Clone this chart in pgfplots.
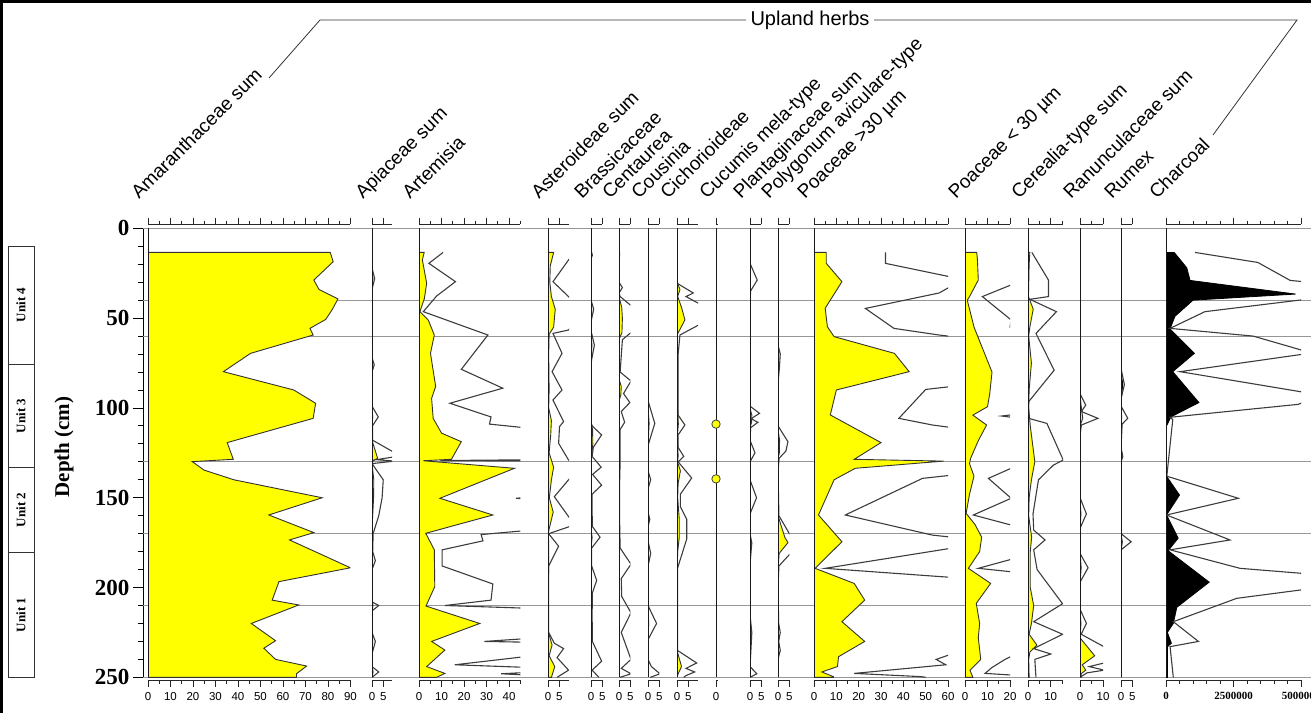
\documentclass[border=0pt]{standalone}
\usepackage{pgfplots}
\pgfplotsset{compat=1.18}
\usepackage{fontspec}
\setmainfont{Liberation Sans}
\newfontfamily\seriffont{Liberation Serif}
\definecolor{pyellow}{RGB}{255,255,0}
\definecolor{exline}{RGB}{60,60,60}
\definecolor{zone}{RGB}{150,150,150}
\pgfplotsset{
  panel/.style={
    scale only axis, height=456.2pt, anchor=south west,
    xmin=0, ymin=-2.3, ymax=251.7, y dir=reverse,
    axis x line=box, axis y line=none,
    axis line style={-},
    x axis line style={black!85, line width=0.8pt},
    ytick=\empty,
    tick align=outside,
    major tick length=6.5pt, minor tick length=3.5pt,
    every tick/.style={black!85, line width=0.7pt},
    xticklabel style={font=\fontsize{11.5}{12}\selectfont, inner sep=1pt, yshift=-4pt},
    /pgf/number format/assume math mode=true,
    clip mode=individual,
  },
  fillp/.style={fill=pyellow, draw=black!80, line width=0.9pt},
  fillk/.style={fill=black, draw=black, line width=0.8pt},
  exag/.style={exline, line width=1.1pt},
}
\newcommand{\zeroline}{\draw[black!90, line width=1pt] (axis cs:0,0) -- (axis cs:0,250);}
\newcommand{\taxon}[2]{\node[rotate=45, anchor=base west, inner sep=0pt, font=\fontsize{19}{20}\selectfont] at (#1pt,513pt) {#2};}
\begin{document}
\begin{tikzpicture}
\useasboundingbox (0pt,0pt) rectangle (1311pt,713pt);
% frame
\draw[black, line width=3pt] (1.5pt,0pt) -- (1.5pt,711.5pt) -- (1311pt,711.5pt);
% units
\draw[black!80, line width=0.8pt] (8pt,466.3pt) rectangle (34pt,35.7pt);
\draw[black!80, line width=0.8pt] (8pt,349pt) -- (34pt,349pt) (8pt,245.3pt) -- (34pt,245.3pt) (8pt,160.3pt) -- (34pt,160.3pt);
\begin{scope}[font=\seriffont\bfseries\fontsize{13}{14}\selectfont]
\node[rotate=90] at (21pt,408pt) {Unit 4};
\node[rotate=90] at (21pt,297pt) {Unit 3};
\node[rotate=90] at (21pt,203pt) {Unit 2};
\node[rotate=90] at (21pt,98pt) {Unit 1};
\end{scope}
\node[rotate=90, font=\seriffont\bfseries\fontsize{21}{22}\selectfont] at (64pt,266pt) {Depth (cm)};
% header
\node[font=\fontsize{20}{21}\selectfont] at (810pt,693pt) {Upland herbs};
\draw[black!80, line width=0.8pt] (269pt,635pt) -- (320pt,693pt) -- (746pt,693pt);
\draw[black!80, line width=0.8pt] (874pt,693pt) -- (1297pt,693pt) -- (1213pt,578pt);
% taxon labels
\taxon{139}{Amaranthaceae sum}
\taxon{363}{Apiaceae sum}
\taxon{410}{Artemisia}
\taxon{539}{Asteroideae sum}
\taxon{582}{Brassicaceae}
\taxon{610}{Centaurea}
\taxon{639}{Cousinia}
\taxon{668}{Cichorioideae}
\taxon{707}{Cucumis mela-type}
\taxon{741}{Plantaginaceae sum}
\taxon{769}{Polygonum aviculare-type}
\taxon{805}{Poaceae \textgreater30 µm}
\taxon{956}{Poaceae \textless{} 30 µm}
\taxon{1019}{Cerealia-type sum}
\taxon{1071}{Ranunculaceae sum}
\taxon{1112}{Rumex}
\taxon{1157}{Charcoal}

% depth axis + zone lines
\begin{axis}[scale only axis, at={(143pt,35.7pt)}, anchor=south west, width=1168pt, height=449pt,
  xmin=0, xmax=1, ymin=0, ymax=250, y dir=reverse,
  axis x line=none, axis y line=left, axis line style={-, black, line width=0.9pt},
  ytick={0,50,...,250}, minor y tick num=4, tick align=outside,
  major tick length=10pt, minor tick length=5pt,
  every tick/.style={black, line width=0.8pt},
  /pgf/number format/assume math mode=true,
  yticklabel style={font=\seriffont\bfseries\fontsize{23}{24}\selectfont},
  clip=false]
\foreach \d in {0,40,60,130,170,210,250} {
  \edef\tmp{\noexpand\draw[zone, line width=0.9pt] (axis cs:0,\d) -- (axis cs:1,\d);}\tmp
}
\end{axis}

% 1 Amaranthaceae
\begin{axis}[panel, at={(148pt,32.6pt)}, width=202.5pt, xmax=90, xtick={0,10,...,90}, minor xtick={5,15,...,85}]
\addplot[fillp] coordinates {(0,13.4)(81,13.4)(82.3,18.6)(73.7,28.8)(76,34)(84.4,39.3)(82,45)(79,50.7)(72,55.7)(73.4,59.4)(45.6,69.6)(33.5,79.8)(64.8,90)(74.5,97.4)(73.4,105.8)(35.2,119.3)(37.9,128.6)(19.7,129.9)(24.9,134.6)(38.2,140)(77.4,150)(53.7,159.6)(73.7,169.4)(62.9,173.5)(90,189)(58.2,196.7)(55.2,207)(67,209.7)(45.9,220)(56.7,229.6)(51.5,233.8)(56.7,240)(70.5,243.7)(66,248)(66,250)(0,250)};
\zeroline
\end{axis}

% 2 Apiaceae
\begin{axis}[panel, at={(372pt,32.6pt)}, width=20pt, xmax=8.9, xtick={0,5}]
\addplot[fillp] coordinates {(0,13.4)(0,22)(0.4,28)(0,34)(0,70)(0.3,75)(0,80)(0,100)(0.3,105)(0,112)(0,118)(1.5,124)(2.5,128)(0.5,129.5)(0,131)(0.8,140)(0.7,150)(0.3,160)(0,168)(0,180)(0.3,185)(0,190)(0,205)(0.4,210)(0,215)(0,225)(0.3,230)(0,237)(0,244)(0.5,247)(0,250)};
\addplot[exag] coordinates {(0,13.4)(0,22)(1.2,28)(0,34)(0,72)(1,76)(0,80)(0,99)(2.8,105)(0.2,110)(0.3,118)(9.5,124.5)(11,127)(2,128.8)(10,129.6)(0,131)(5,140)(4.5,150)(3,160)(0.5,170)(0.3,180)(1.5,185)(0,190)(0,208)(3,210)(0,213)(0,225)(1.5,230)(0,237)(0,244)(3,247)(0,250)};
\zeroline
\end{axis}

% 3 Artemisia
\begin{axis}[panel, at={(419pt,32.6pt)}, width=101.3pt, xmax=45, xtick={0,10,...,40}, minor xtick={5,15,...,45}]
\addplot[fillp] coordinates {(0,13.4)(2.3,13.4)(1.5,17.6)(3.4,30.6)(2.4,39)(0.4,46.4)(4.1,51)(6.8,59.4)(5.1,69.6)(7.4,88)(5.6,94.7)(6.3,105.8)(10,114)(18.8,118.8)(14.4,128.6)(1.9,129.4)(42.4,133.6)(9.3,150.3)(32.8,159.6)(3,169.8)(6.8,179)(7,199.5)(3.1,210.3)(27,220)(5.6,230)(11.5,234.8)(3.4,244)(11.5,247.8)(7.8,250)(0,250)};
\addplot[exag] coordinates {(10.7,13.4)(4.4,19.5)(16.2,29.7)(7.8,37.7)(1.9,46.4)(30.6,59.4)(18.8,78.5)(37.2,89)(13.7,97.4)(32,105)(31.3,109)(50,111.4)(94,118.8)(72,128.6)(9.5,129.3)(200,130)(212,133.6)(43,150.3)(164,159.6)(50,168)(27.6,170.5)(28.4,174)(10.3,179)(10.3,188)(32.8,198)(32,207)(11.5,210)(60,212)(135,220)(60,227.4)(29,230)(60,230.7)(60,236.6)(15.9,243)(60,245)(60,246.5)(36.5,248)(60,249.5)(50,250)};
\zeroline
\end{axis}

% 4 Asteroideae
\begin{axis}[panel, at={(548pt,32.6pt)}, width=21pt, xmax=9.3, xtick={0,5}]
\addplot[fillp] coordinates {(0,13.4)(2.5,13.4)(1,21)(0.8,30)(1.5,38)(3.2,45)(2.5,55)(0.5,59)(0.3,70)(0.5,90)(0.3,100)(1.5,107)(1.2,115)(0.5,125)(2.5,133)(1.5,140)(0.6,150)(2.3,158)(0.2,169)(0.3,180)(0.2,200)(0.2,225)(1.8,232)(0.5,238)(3,244)(1.5,250)(0,250)};
\addplot[exag] coordinates {(12.5,13.4)(9.1,17.6)(2.2,29.7)(9.1,38)(16,47)(9.1,56.6)(2.2,58.5)(6.2,69.6)(1.8,79.8)(6.2,90)(2.2,95.6)(6.9,107.6)(5.1,110.4)(4.7,119.7)(9.1,129)(14,133)(9.1,140)(2.8,149.4)(9.1,160.5)(12,165)(0.3,170)(4.7,177)(0.3,188)(0.3,225)(2.8,231)(6.9,234)(4,239)(9.1,246)(4,250)};
\zeroline
\end{axis}

% 5 Brassicaceae
\begin{axis}[panel, at={(591pt,32.6pt)}, width=11.3pt, xmax=5, xtick={0,5}]
\addplot[fillp] coordinates {(0,13.4)(0.2,13.4)(0,17)(0,40)(0.3,45)(0,52)(0,57)(0.4,65)(0,75)(0,108)(0.7,112)(0.8,120)(0.3,127)(0,133)(0,168)(0.5,172)(0,178)(0,250)};
\addplot[exag] coordinates {(0.3,13.4)(0.6,15)(0,17)(0,40)(1.2,45)(0,52)(0,57)(1.5,65)(0,75)(0,108)(0.5,110)(4.7,115)(1,122)(0.5,127)(4.5,133)(0.7,137)(4.7,143)(0.5,148)(0.5,158)(0.6,166)(4,172)(0.3,178)(0.3,188)(2.5,196)(0.6,203)(0.5,215)(0.6,230)(4.7,241)(0.5,246)(3.5,250)};
\zeroline
\end{axis}

% 6 Centaurea
\begin{axis}[panel, at={(619pt,32.6pt)}, width=11.3pt, xmax=5, xtick={0,5}]
\addplot[fillp] coordinates {(0,13.4)(0.2,13.4)(0,20)(0,38)(1.2,44)(1.5,50)(1.3,58)(0,62)(0,84)(1,88)(0.8,93)(0,96)(0,250)};
\addplot[exag] coordinates {(0.3,13.4)(0,20)(0,30)(1.5,33)(0,36)(0.5,38)(5.3,43)(8,50)(5.3,58)(1.5,62)(0.5,80)(5.3,85)(2,92)(4.8,97)(1,102)(2.5,108)(0.5,112)(0.5,130)(0.3,140)(0.3,165)(0.5,178)(5.3,187)(1,195)(1.2,205)(5.3,214)(1,225)(5.3,240)(1,245)(5.3,248)(0.5,250)};
\zeroline
\end{axis}

% 7 Cousinia
\begin{axis}[panel, at={(648pt,32.6pt)}, width=11.3pt, xmax=5, xtick={0,5}]
\addplot[fillp] coordinates {(0,13.4)(0,100)(0.5,108.6)(0,121)(0,210)(0.3,220)(0,229)(0,250)};
\addplot[exag] coordinates {(0,13.4)(0,96)(3,108.6)(0,121)(0,135)(1.2,140)(0,145)(0,158)(0.8,162)(0,166)(0,174)(1.2,181)(0,188)(0,210)(3.8,220)(0,229)(0,240)(1.5,244)(5.3,248)(1,250)};
\zeroline
\end{axis}

% 8 Cichorioideae
\begin{axis}[panel, at={(677pt,32.6pt)}, width=21pt, xmax=9.3, xtick={0,5}]
\addplot[fillp] coordinates {(0,13.4)(0,30)(1.3,34)(0.3,38)(2,44)(3.5,51)(0,59.4)(0.3,70)(0.3,100)(0.6,109)(0.2,115)(0.5,127)(0.2,130)(1.5,135)(0.5,142)(0.3,150)(1,162)(1,172)(0.3,180)(0,193)(0,235)(2,244)(0.5,248)(0,250)};
\addplot[exag] coordinates {(0,13.4)(0,30)(0.6,31)(7.2,36)(4,38)(9.6,41.8)(15,45)(9.6,53.8)(1.3,59.4)(0.5,70)(0.5,104)(3.5,109.5)(0.5,115)(0.5,122)(3,127)(0.5,130)(6.5,139)(1.5,148)(1.5,155)(4.3,162)(4.3,173)(0.3,189)(0.2,235)(8.7,242)(4,245)(7.8,247)(4,249)(3,250)};
\zeroline
\end{axis}

% 9 Cucumis
\begin{axis}[panel, at={(716pt,32.6pt)}, width=1.5pt, xmax=1, xtick={0}, clip=false]
\zeroline
\addplot[only marks, mark=*, mark size=4.2pt, mark options={fill=pyellow, draw=black!75, line width=0.8pt}] coordinates {(0,109)(0,139.5)};
\end{axis}

% 10 Plantaginaceae
\begin{axis}[panel, at={(750pt,32.6pt)}, width=11.3pt, xmax=5, xtick={0,5}]
\addplot[fillp] coordinates {(0,13.4)(0,100)(0.8,104)(0.7,108)(0,111)(0,250)};
\addplot[exag] coordinates {(0,13.4)(0,19.5)(3.2,28.8)(0.2,35)(0,99)(4.2,103)(0.5,106)(3.5,108)(0.3,111)(0,118)(2.2,125)(0,130)(0,140)(2.9,150)(0,159)(0,170)(0.8,175)(0,187)(0,215)(0.8,225)(0.4,235)(0,244)(3,248)(0,250)};
\zeroline
\end{axis}

% 11 Polygonum
\begin{axis}[panel, at={(778pt,32.6pt)}, width=11.3pt, xmax=5, xtick={0,5}]
\addplot[fillp] coordinates {(0,13.4)(0,65)(0.3,70)(0,86)(0,112)(0.7,118)(0.6,125)(0,128)(0,160)(3,172)(4.4,175)(0.5,181)(0,190)(0,250)};
\addplot[exag] coordinates {(0,13.4)(0,65)(1,70)(0.6,78)(0,86)(0,110)(4.4,118.8)(3.5,124)(0.5,128)(0,135)(0.4,160)(5.5,171)(22,175)(5.5,181)(0.4,188)(0,200)(0.3,220)(1,225)(0.3,230)(1,235)(0,240)(0,250)};
\zeroline
\end{axis}

% 12 Poaceae >30
\begin{axis}[panel, at={(814pt,32.6pt)}, width=134pt, xmax=60, xtick={0,10,...,60}, minor xtick={5,15,...,55}]
\addplot[fillp] coordinates {(0,13.4)(5.5,13.4)(5.5,19.5)(12.5,29.7)(5,44.5)(6,54.8)(9,60.3)(36,69.6)(42.6,79.8)(10,90)(7.3,103.9)(30,119.3)(18,128.6)(58,129.6)(18.5,133.6)(9,140)(2,159.6)(12.5,174.5)(0.5,189.3)(18,197.7)(22.7,207)(12.5,219)(22.7,230)(11,238.5)(10.5,244)(3.5,247)(8.7,249.6)(8.7,250)(0,250)};
\addplot[exag] coordinates {(32,13.4)(32,19.5)(61,27)(63,29.7)(60.3,33)(56,36)(23,44.6)(35.8,55.7)(56,59.4)(62,60.3)(180,69.6)(213,79.8)(62,88)(50,89.7)(38,105.8)(53,109.5)(62,111)(150,119.3)(90,128.6)(290,129.6)(92,133.6)(62,137.4)(48.6,139.2)(14,159.6)(53,170.8)(62,172)(62,178)(5,189.3)(61,194.3)(90,197.7)(113,207)(62,219)(113,230)(60.5,237.5)(54.7,240)(59,243)(18,247.8)(48,249.6)(50,250)};
\zeroline
\end{axis}

% 13 Poaceae <30
\begin{axis}[panel, at={(965pt,32.6pt)}, width=45pt, xmax=20, xtick={0,10,20}, minor xtick={5,15}]
\addplot[fillp] coordinates {(0,13.4)(5.2,13.4)(5.5,17)(5.9,28.8)(2,38)(1,40)(4,55)(12,80)(11,92)(10,99.3)(3.5,104)(9.6,109.5)(6,118)(2.5,128)(2,131)(4,138)(2,148)(0.5,158.7)(4.5,165)(7.4,172)(6.5,180)(1.5,189.3)(11.4,197.7)(5,208.8)(6.5,220)(5.9,228)(7,240)(2.2,246)(3.5,250)(0,250)};
\addplot[exag] coordinates {(26,13.4)(29.5,28.8)(20.5,31.5)(7.7,38)(20.5,51)(20,55)(60,80)(55,92)(50,99.3)(16.3,104.5)(48,109.5)(30,118)(25,128)(20.5,133.6)(10.4,139.2)(20.5,150.3)(3.7,159.6)(20.5,165.2)(37,172)(32,180)(20.5,184.3)(5.9,189.3)(20.5,191.2)(57,197.7)(32,220)(20.2,238.5)(17.8,240)(12,244.5)(8.9,247.8)(20.5,248.7)(20.5,250)};
\zeroline
\end{axis}

% 14 Cerealia
\begin{axis}[panel, at={(1028pt,32.6pt)}, width=35pt, xmax=15.4, xtick={0,10}, minor xtick={5,15}]
\addplot[fillp] coordinates {(0,13.4)(0.8,13.4)(0.5,20)(0.2,38)(2.3,45)(0.8,55)(0.3,60)(1.5,75)(0.5,90)(0.3,100)(1,110)(2,120)(3,130)(1.5,140)(0.5,150)(0.3,160)(1.6,172)(1,180)(1,200)(2.5,210)(1.5,220)(0.5,226)(3.9,232)(0.8,236)(0.3,240)(0.5,250)(0,250)};
\addplot[exag] coordinates {(1.7,13.4)(9,28.8)(9,38)(0.8,39.5)(12.5,46.4)(3.5,58.5)(11.5,79)(0.3,96.5)(0.3,105.8)(8.3,108.6)(15.5,129)(11.2,131.8)(4.6,140)(2.2,159)(2.5,168)(7.5,173.5)(2.5,179)(4,190)(15.2,209)(2.5,219)(15.2,226)(2.5,234)(10,237)(3,240)(3.5,250)};
\zeroline
\end{axis}

% 15 Ranunculaceae
\begin{axis}[panel, at={(1080pt,32.6pt)}, width=23pt, xmax=10, xtick={0,10}, minor xtick={5}]
\addplot[fillp] coordinates {(0,13.4)(0,92)(0.4,98)(1.2,105.8)(0,110)(0,150)(0.4,159)(0,168)(0,180)(0.5,189)(0,198)(0,212)(0.4,220)(0,228)(6.4,238)(1,243)(2.5,246)(0.5,248)(0.5,250)(0,250)};
\addplot[exag] coordinates {(0,13.4)(0,92)(2.5,98.4)(0.6,102)(7.8,105.8)(0.6,109.5)(0,115)(0,150)(2.8,159)(0,167)(0,181)(3.5,189)(0,197)(0,212)(2.8,220)(0.5,226)(10.5,233)(32,238)(10.5,242)(4,244)(10.5,246)(3,247.5)(0,250)};
\zeroline
\end{axis}

% 16 Rumex
\begin{axis}[panel, at={(1121pt,32.6pt)}, width=11.3pt, xmax=5, xtick={0,5}]
\addplot[fillk] coordinates {(0,13.4)(0,80)(0.8,87)(0,95)(0,250)};
\addplot[fillp] coordinates {(0,100)(0.3,105)(0,110)(0,122)(0.5,127)(0,130)(0,170)(0.6,174.5)(0,180)};
\addplot[exag] coordinates {(0,13.4)(0,78)(1.5,87)(0,95)(0,99)(3,105.8)(0.5,109)(0,122)(0.8,127)(0,130)(0,170)(4.5,174.5)(0,179)(0,250)};
\zeroline
\end{axis}

% 17 Charcoal
\begin{axis}[panel, at={(1166pt,32.6pt)}, width=135pt, xmax=5, xtick={0,2.5,5}, xticklabels={0,2500000,5000000},
  minor xtick={0.5,1,1.5,2,3,3.5,4,4.5},
  xticklabel style={font=\seriffont\bfseries\fontsize{11}{12}\selectfont}]
\addplot[fillk] coordinates {(0,13.4)(0.3,13.4)(0.5,17)(0.77,22)(0.89,29)(4.8,36.6)(1.0,40)(0.33,49)(0.15,56)(1.05,69.6)(0.25,79.8)(1.22,97)(0.18,105)(0.02,110)(0.02,138)(0.5,148.5)(0.02,159.6)(0.45,172.5)(0.08,179.5)(1.6,197)(0.4,211)(0.27,220)(0.05,225)(0.2,231)(0.05,233)(0.05,250)(0,250)};
\addplot[exag] coordinates {(1.07,13.4)(3.4,19)(4.6,29)(5.3,30)(24,36.6)(5.2,39.5)(1.44,46.4)(0.15,55.7)(3.23,60)(5.0,67.7)(5.3,69.6)(0.52,79.8)(5.0,91)(5.5,94)(4.9,98)(0.15,105.2)(0.25,106.5)(0.12,125)(0.03,138)(2.68,150.3)(0.02,159.6)(2.37,173.5)(0.15,179)(2.74,189.3)(4.96,192)(8,197)(4.96,201.4)(2.62,206)(0.27,219)(1.2,230)(0.15,232.9)(0.27,250)};
\zeroline
\end{axis}
\end{tikzpicture}
\end{document}
